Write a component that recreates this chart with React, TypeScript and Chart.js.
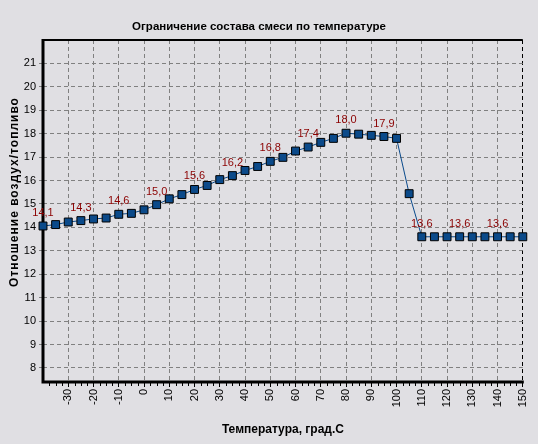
import React, { useEffect, useRef } from "react";
import { Chart, registerables } from "chart.js";

Chart.register(...registerables);

const temperatures: number[] = [
  -40, -35, -30, -25, -20, -15, -10, -5, 0, 5, 10, 15, 20, 25, 30, 35, 40, 45, 50,
  55, 60, 65, 70, 75, 80, 85, 90, 95, 100, 105, 110, 115, 120, 125, 130, 135, 140,
  145, 150,
];

const airFuelRatio: number[] = [
  14.06, 14.12, 14.23, 14.29, 14.36, 14.4, 14.56, 14.6, 14.75, 14.97, 15.22, 15.4,
  15.62, 15.79, 16.04, 16.21, 16.43, 16.6, 16.82, 16.99, 17.26, 17.43, 17.63, 17.8,
  18.02, 17.98, 17.93, 17.88, 17.8, 15.44, 13.6, 13.6, 13.6, 13.6, 13.6, 13.6, 13.6,
  13.6, 13.6,
];

const xTickValues: number[] = [-30, -20, -10, 0, 10, 20, 30, 40, 50, 60, 70, 80, 90, 100, 110, 120, 130, 140, 150];
const yTickValues: number[] = [8, 9, 10, 11, 12, 13, 14, 15, 16, 17, 18, 19, 20, 21];

const chartTitle = "Ограничение состава смеси по температуре";
const xTitle = "Температура, град.С";
const yTitle = "Отношение воздух/топливо";

const FONT = "'Liberation Sans', Arial, sans-serif";

export default function App() {
  const ref = useRef<HTMLCanvasElement | null>(null);

  useEffect(() => {
    if (!ref.current) return;

    const bgPlugin = {
      id: "bg",
      beforeDraw(chart: any) {
        const c = chart.ctx;
        c.save();
        c.fillStyle = "#E0DFE3";
        c.fillRect(0, 0, chart.width, chart.height);
        c.restore();
      },
    };

    const axesPlugin = {
      id: "axesLines",
      beforeDatasetsDraw(chart: any) {
        const c = chart.ctx;
        const a = chart.chartArea;
        const xs = chart.scales.x;
        c.save();
        c.strokeStyle = "#000";
        c.setLineDash([]);
        c.lineWidth = 2;
        c.beginPath();
        c.moveTo(a.left, a.top);
        c.lineTo(a.right, a.top);
        c.stroke();
        c.lineWidth = 3;
        c.beginPath();
        c.moveTo(a.left, a.top - 1);
        c.lineTo(a.left, a.bottom);
        c.lineTo(a.right + 1, a.bottom);
        c.stroke();
        c.lineWidth = 1;
        for (let v = -40; v <= 150; v += 2.5) {
          if (v % 10 === 0) continue;
          const px = Math.round(xs.getPixelForValue(v)) + 0.5;
          c.beginPath();
          c.moveTo(px, a.bottom);
          c.lineTo(px, a.bottom + 4);
          c.stroke();
        }
        c.restore();
      },
    };

    const titlePlugin = {
      id: "titles",
      afterDraw(chart: any) {
        const c = chart.ctx;
        const a = chart.chartArea;
        c.save();
        c.fillStyle = "#000";
        c.textAlign = "center";
        c.textBaseline = "middle";
        c.font = `bold 11.5px ${FONT}`;
        c.fillText(chartTitle, 259, 27);
        c.font = `bold 12px ${FONT}`;
        c.fillText(xTitle, (a.left + a.right) / 2, 430);
        c.translate(15, 192);
        c.rotate(-Math.PI / 2);
        (c as any).letterSpacing = "1px";
        c.fillText(yTitle, 0, 0);
        c.restore();
      },
    };

    const labelPlugin = {
      id: "valueLabels",
      afterDatasetsDraw(chart: any) {
        const c = chart.ctx;
        const meta = chart.getDatasetMeta(0);
        c.save();
        c.fillStyle = "#8B0000";
        c.font = `11px ${FONT}`;
        c.textAlign = "center";
        c.textBaseline = "middle";
        meta.data.forEach((el: any, i: number) => {
          if (i % 3 !== 0) return;
          const v = airFuelRatio[i];
          c.fillText(v.toFixed(1).replace(".", ","), el.x, el.y - 13);
        });
        c.restore();
      },
    };

    const chart = new Chart(ref.current, {
      type: "line",
      data: {
        datasets: [
          {
            data: temperatures.map((t, i) => ({ x: t, y: airFuelRatio[i] })),
            borderColor: "#0A4A8C",
            borderWidth: 1,
            backgroundColor: "#0B4A8A",
            pointStyle: "rect",
            pointRadius: 5.6,
            pointBorderColor: "#000",
            pointBorderWidth: 1,
            pointBackgroundColor: "#0B4A8A",
            tension: 0,
            clip: false as any,
          },
        ],
      },
      options: {
        responsive: false,
        animation: false,
        devicePixelRatio: 1,
        layout: { padding: { top: 40, right: 8, left: 0, bottom: 0 } },
        plugins: {
          legend: { display: false },
          tooltip: { enabled: false },
          title: { display: false },
        },
        scales: {
          x: {
            type: "linear",
            min: -40,
            max: 150,
            afterBuildTicks(scale: any) {
              scale.ticks = xTickValues.map((v) => ({ value: v }));
            },
            afterFit(scale: any) {
              scale.height = 62;
            },
            ticks: {
              color: "#000",
              font: { size: 11, family: FONT },
              minRotation: 90,
              maxRotation: 90,
              padding: 2,
              autoSkip: false,
            },
            grid: {
              color: (ctx: any) => (ctx.tick && ctx.tick.value === 150 ? "#000" : "#808080"),
              lineWidth: 1,
              tickLength: 5,
              tickColor: "#000",
              tickBorderDash: [],
            },
            border: { display: false, color: "#000", width: 3, dash: [4, 3] },
          },
          y: {
            type: "linear",
            min: 7.4,
            max: 22,
            afterBuildTicks(scale: any) {
              scale.ticks = yTickValues.map((v) => ({ value: v }));
            },
            afterFit(scale: any) {
              scale.width = 43;
            },
            ticks: {
              color: "#000",
              font: { size: 11, family: FONT },
              padding: 3,
              autoSkip: false,
            },
            grid: {
              color: "#808080",
              lineWidth: 1,
              tickLength: 4,
              tickColor: "#808080",
              tickBorderDash: [],
            },
            border: { display: false, color: "#000", width: 3, dash: [4, 3] },
          },
        },
      },
      plugins: [bgPlugin, axesPlugin, labelPlugin, titlePlugin],
    } as any);

    return () => chart.destroy();
  }, []);

  return (
    <canvas
      ref={ref}
      width={538}
      height={444}
      style={{ position: "fixed", left: 0, top: 0, width: 538, height: 444 }}
    />
  );
}
